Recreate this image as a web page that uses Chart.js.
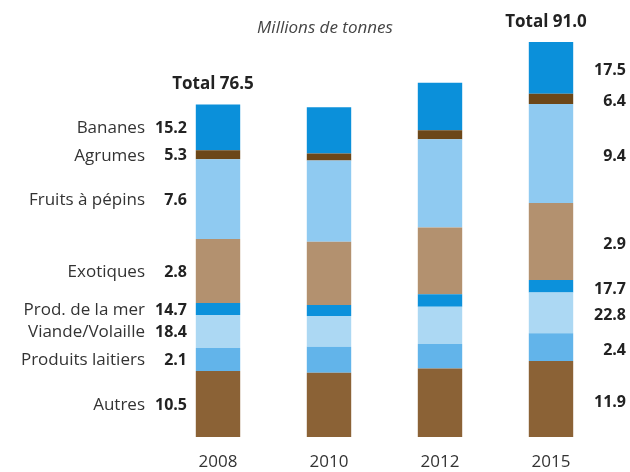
<!DOCTYPE html>
<html>
<head>
<meta charset="utf-8">
<script src="https://cdn.jsdelivr.net/npm/chart.js@4"></script>
<style>
  html, body { margin: 0; padding: 0; background: #ffffff; }
  #wrap { width: 630px; height: 472px; }
</style>
</head>
<body>
<div id="wrap"><canvas id="c" width="630" height="472"></canvas></div>
<script>
// ---- Data (millions de tonnes) ----
const years = ['2008', '2010', '2012', '2015'];
const seriesNames = ['Autres', 'Produits laitiers', 'Viande/Volaille', 'Prod. de la mer', 'Exotiques', 'Fruits à pépins', 'Agrumes', 'Bananes'];
const autres    = [15.2, 14.8, 15.8, 17.5];
const laitiers  = [5.3, 6.0, 5.6, 6.4];
const viande    = [7.6, 7.1, 8.6, 9.4];
const mer       = [2.8, 2.5, 2.9, 2.9];
const exotiques = [14.7, 14.6, 15.4, 17.7];
const fruits    = [18.4, 18.7, 20.3, 22.8];
const agrumes   = [2.1, 1.6, 2.1, 2.4];
const bananes   = [10.5, 10.7, 10.9, 11.9];
// Printed numbers next to the first and last bar (as printed, bottom to top)
const leftNumbers  = ['10.5', '2.1', '18.4', '14.7', '2.8', '7.6', '5.3', '15.2'];
const rightNumbers = ['11.9', '2.4', '22.8', '17.7', '2.9', '9.4', '6.4', '17.5'];
const totals = ['Total 76.5', '', '', 'Total 91.0'];
const subtitle = 'Millions de tonnes';

const colors = ['#8b6236', '#62b4ea', '#acd8f3', '#0c91db', '#b3916f', '#8fcaf1', '#6c4719', '#0b90da'];
const values = [autres, laitiers, viande, mer, exotiques, fruits, agrumes, bananes];

const FONT = '"Open Sans", "Noto Sans", sans-serif';

const labelPlugin = {
  id: 'labels',
  afterDatasetsDraw(chart) {
    const ctx = chart.ctx;
    ctx.save();
    ctx.textBaseline = 'middle';
    chart.data.datasets.forEach((ds, i) => {
      const meta = chart.getDatasetMeta(i);
      const b0 = meta.data[0];
      const y0 = (b0.y + b0.base) / 2 + 1;
      ctx.fillStyle = '#333333';
      ctx.textAlign = 'right';
      ctx.font = '17px ' + FONT;
      ctx.fillText(seriesNames[i], 145, y0);
      ctx.font = 'bold 16px ' + FONT;
      ctx.fillStyle = '#222222';
      ctx.fillText(leftNumbers[i], 187, y0);
      const b3 = meta.data[3];
      const y3 = (b3.y + b3.base) / 2 + 3;
      ctx.fillText(rightNumbers[i], 626, y3);
    });
    // totals
    const topMeta = chart.getDatasetMeta(chart.data.datasets.length - 1);
    ctx.textAlign = 'center';
    ctx.font = 'bold 17px ' + FONT;
    ctx.fillStyle = '#222222';
    totals.forEach((t, j) => {
      if (!t) return;
      const b = topMeta.data[j];
      ctx.fillText(t, b.x - 5, b.y - 20);
    });
    // subtitle
    ctx.font = 'italic 17px ' + FONT;
    ctx.fillStyle = '#444444';
    ctx.fillText(subtitle, 325, 28);
    ctx.restore();
  }
};

new Chart(document.getElementById('c'), {
  type: 'bar',
  data: {
    labels: years,
    datasets: values.map((v, i) => ({
      label: seriesNames[i],
      data: v,
      backgroundColor: colors[i],
      borderWidth: 0,
      barPercentage: 0.4,
      categoryPercentage: 1.0
    }))
  },
  options: {
    responsive: false,
    animation: false,
    layout: { padding: { left: 162.5, right: 23.5, top: 3, bottom: 0 } },
    plugins: { legend: { display: false }, tooltip: { enabled: false } },
    scales: {
      x: {
        stacked: true,
        offset: true,
        grid: { display: false, drawTicks: false },
        border: { display: false },
        ticks: { color: '#333333', font: { family: FONT, size: 17 }, padding: 15 },
        afterFit(scale) { scale.height = 35; }
      },
      y: {
        stacked: true,
        display: false,
        min: 0,
        max: 100
      }
    }
  },
  plugins: [labelPlugin]
});
</script>
</body>
</html>
